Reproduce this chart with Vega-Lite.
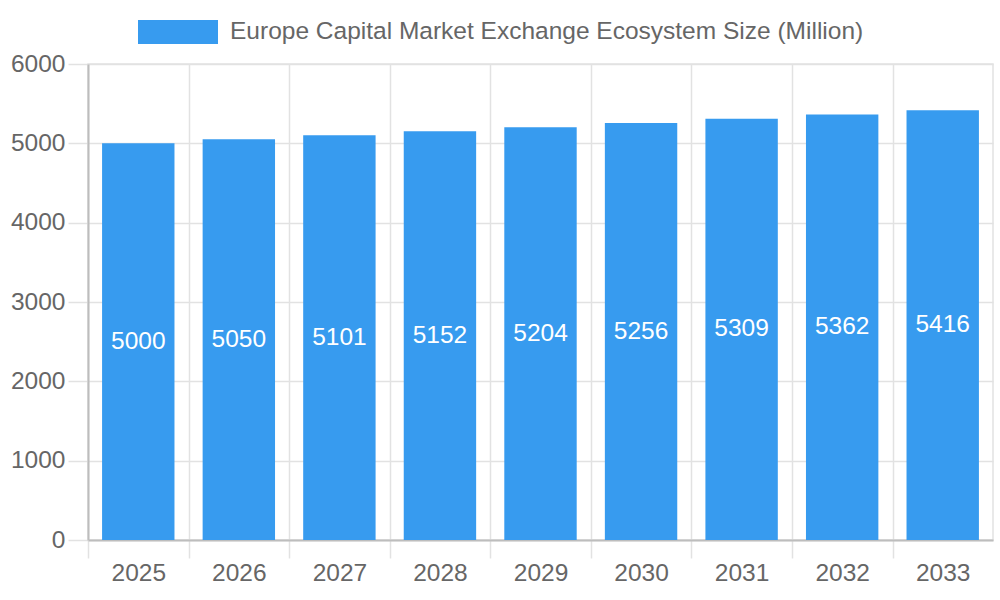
{
  "$schema": "https://vega.github.io/schema/vega-lite/v6.json",
  "width": 905,
  "height": 476,
  "autosize": "none",
  "padding": {"left": 88, "top": 64, "right": 7, "bottom": 60},
  "background": "white",
  "config": {
    "font": "Liberation Sans",
    "view": {"stroke": "#e2e2e2", "strokeWidth": 1.5},
    "axis": {
      "labelFont": "Liberation Sans",
      "labelFontSize": 24.5,
      "labelColor": "#666666",
      "gridColor": "#e2e2e2",
      "gridWidth": 1.5,
      "domainColor": "#bdbdbd",
      "domainWidth": 2,
      "tickColor": "#e2e2e2",
      "tickWidth": 1.5
    }
  },
  "data": {
    "values": [
      {"year": "2025", "size": 5000, "series": "Europe Capital Market Exchange Ecosystem Size (Million)"},
      {"year": "2026", "size": 5050, "series": "Europe Capital Market Exchange Ecosystem Size (Million)"},
      {"year": "2027", "size": 5101, "series": "Europe Capital Market Exchange Ecosystem Size (Million)"},
      {"year": "2028", "size": 5152, "series": "Europe Capital Market Exchange Ecosystem Size (Million)"},
      {"year": "2029", "size": 5204, "series": "Europe Capital Market Exchange Ecosystem Size (Million)"},
      {"year": "2030", "size": 5256, "series": "Europe Capital Market Exchange Ecosystem Size (Million)"},
      {"year": "2031", "size": 5309, "series": "Europe Capital Market Exchange Ecosystem Size (Million)"},
      {"year": "2032", "size": 5362, "series": "Europe Capital Market Exchange Ecosystem Size (Million)"},
      {"year": "2033", "size": 5416, "series": "Europe Capital Market Exchange Ecosystem Size (Million)"}
    ]
  },
  "encoding": {
    "x": {
      "field": "year",
      "type": "ordinal",
      "title": null,
      "scale": {"paddingInner": 0.28, "paddingOuter": 0.14},
      "axis": {
        "labelAngle": 0,
        "labelPadding": 3,
        "bandPosition": 0,
        "tickOffset": -14,
        "labelOffset": 14,
        "tickSize": 18,
        "grid": true
      }
    }
  },
  "layer": [
    {
      "mark": {"type": "bar", "color": "#379bef"},
      "encoding": {
        "y": {
          "field": "size",
          "type": "quantitative",
          "title": null,
          "scale": {"domain": [0, 6000]},
          "axis": {"values": [0, 1000, 2000, 3000, 4000, 5000, 6000], "format": "d", "tickSize": 20, "labelPadding": 3}
        },
        "color": {
          "field": "series",
          "type": "nominal",
          "title": null,
          "scale": {"range": ["#379bef"]},
          "legend": {
            "orient": "none",
            "legendX": 50,
            "legendY": -72,
            "padding": 0,
            "symbolType": "M-1,-0.3H1V0.3H-1Z",
            "symbolSize": 6400,
            "symbolStrokeWidth": 0,
            "symbolOpacity": 1,
            "labelFontSize": 24.5,
            "labelColor": "#666666",
            "labelFont": "Liberation Sans",
            "labelOffset": 12,
            "labelLimit": 900
          }
        }
      }
    },
    {
      "transform": [{"calculate": "datum.size / 2", "as": "mid"}],
      "mark": {"type": "text", "color": "white", "fontSize": 24.5, "font": "Liberation Sans"},
      "encoding": {
        "y": {"field": "mid", "type": "quantitative"},
        "text": {"field": "size", "type": "quantitative"}
      }
    }
  ]
}
